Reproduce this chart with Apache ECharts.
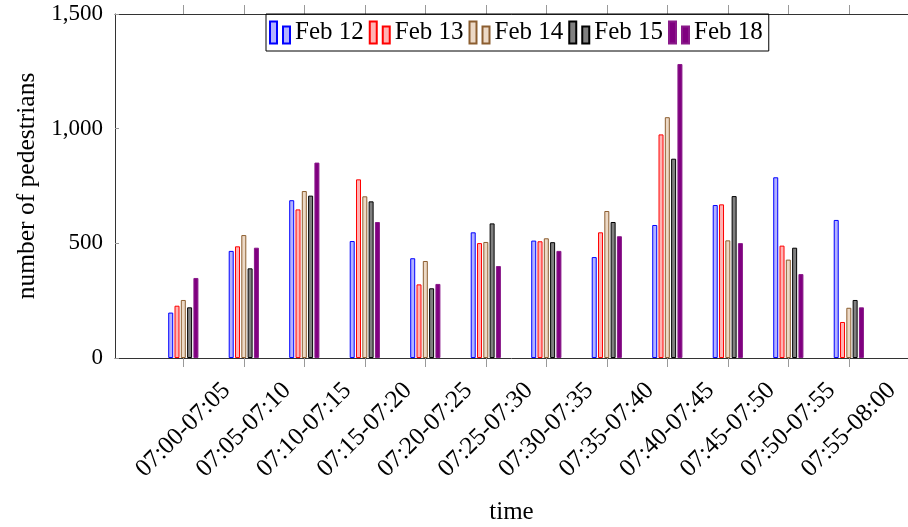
<!DOCTYPE html>
<html>
<head>
<meta charset="utf-8">
<script src="https://cdn.jsdelivr.net/npm/echarts@6/dist/echarts.min.js"></script>
<style>html,body{margin:0;padding:0;background:#fff}#c{width:908px;height:527px}</style>
</head>
<body>
<div id="c"></div>
<script>
const categories = ['07:00-07:05','07:05-07:10','07:10-07:15','07:15-07:20','07:20-07:25','07:25-07:30','07:30-07:35','07:35-07:40','07:40-07:45','07:45-07:50','07:50-07:55','07:55-08:00'];
const seriesNames = ['Feb 12','Feb 13','Feb 14','Feb 15','Feb 18'];
const feb12 = [198, 467, 688, 510, 435, 548, 512, 440, 580, 667, 788, 602];
const feb13 = [228, 487, 648, 779, 321, 501, 509, 548, 975, 670, 490, 157];
const feb14 = [253, 536, 728, 705, 423, 506, 522, 641, 1050, 513, 429, 219];
const feb15 = [221, 391, 708, 683, 304, 587, 505, 593, 869, 706, 481, 253];
const feb18 = [349, 481, 852, 593, 323, 401, 467, 531, 1282, 501, 366, 221];
const yTicks = [0, 500, 1000, 1500];

const values = [feb12, feb13, feb14, feb15, feb18];
const fills = ['#b3b3ff', '#ffb3b3', '#ecd9c6', '#808080', '#800080'];
const strokes = ['#0000ff', '#ff0000', '#8c5e30', '#000000', '#8a1a8a'];
const font = 'Liberation Serif';
const idx = categories.map((c, i) => i);

const chart = echarts.init(document.getElementById('c'));
chart.setOption({
  animation: false,
  backgroundColor: '#fff',
  grid: { left: 115, right: 0, top: 14, bottom: 169, containLabel: false, outerBoundsMode: 'none' },
  legend: {
    left: 266, top: 14,
    padding: [6, 6, 6, 3],
    itemGap: 5, itemWidth: 20, itemHeight: 22,
    borderColor: '#000', borderWidth: 1,
    icon: 'path://M0,0h7v22h-7z M13,5h7v17h-7z',
    textStyle: { fontFamily: font, fontSize: 25, color: '#000' },
    data: seriesNames
  },
  xAxis: [{
    type: 'value', min: -1.129, max: 11.978, position: 'bottom',
    name: 'time', nameLocation: 'middle', nameGap: 142,
    nameTextStyle: { fontFamily: font, fontSize: 25, color: '#000', verticalAlign: 'top' },
    splitLine: { show: false },
    axisLine: { show: true, onZero: false, lineStyle: { color: '#333', width: 1 } },
    axisTick: { show: true, length: 9, lineStyle: { color: '#999' }, customValues: idx },
    axisLabel: {
      customValues: idx, rotate: 45, margin: 72, align: 'center', verticalAlign: 'middle',
      fontFamily: font, fontSize: 25, color: '#000',
      formatter: v => categories[Math.round(v)]
    }
  }, {
    type: 'value', min: -1.129, max: 11.978, position: 'top',
    splitLine: { show: false },
    axisLine: { show: true, onZero: false, lineStyle: { color: '#333', width: 1 } },
    axisTick: { show: true, length: 9, lineStyle: { color: '#999' }, customValues: idx },
    axisLabel: { show: false }
  }],
  yAxis: {
    type: 'value', min: 0, max: 1500, interval: 500,
    name: 'number of pedestrians', nameLocation: 'middle', nameGap: 71,
    nameTextStyle: { fontFamily: font, fontSize: 25.5, color: '#000' },
    splitLine: { show: false },
    axisLine: { show: true, onZero: false, lineStyle: { color: '#333', width: 1 } },
    axisTick: { show: true, inside: true, length: 4, lineStyle: { color: '#999' } },
    axisLabel: {
      margin: 12, fontFamily: font, fontSize: 23, color: '#000',
      formatter: v => yTicks.includes(v) ? v.toLocaleString('en-US') : ''
    }
  },
  series: seriesNames.map((name, s) => ({
    name, type: 'bar', xAxisIndex: 0,
    barWidth: 5, barGap: '26%',
    itemStyle: { color: fills[s], borderColor: strokes[s], borderWidth: 1 },
    data: idx.map(i => [i, values[s][i]])
  }))
});
</script>
</body>
</html>
